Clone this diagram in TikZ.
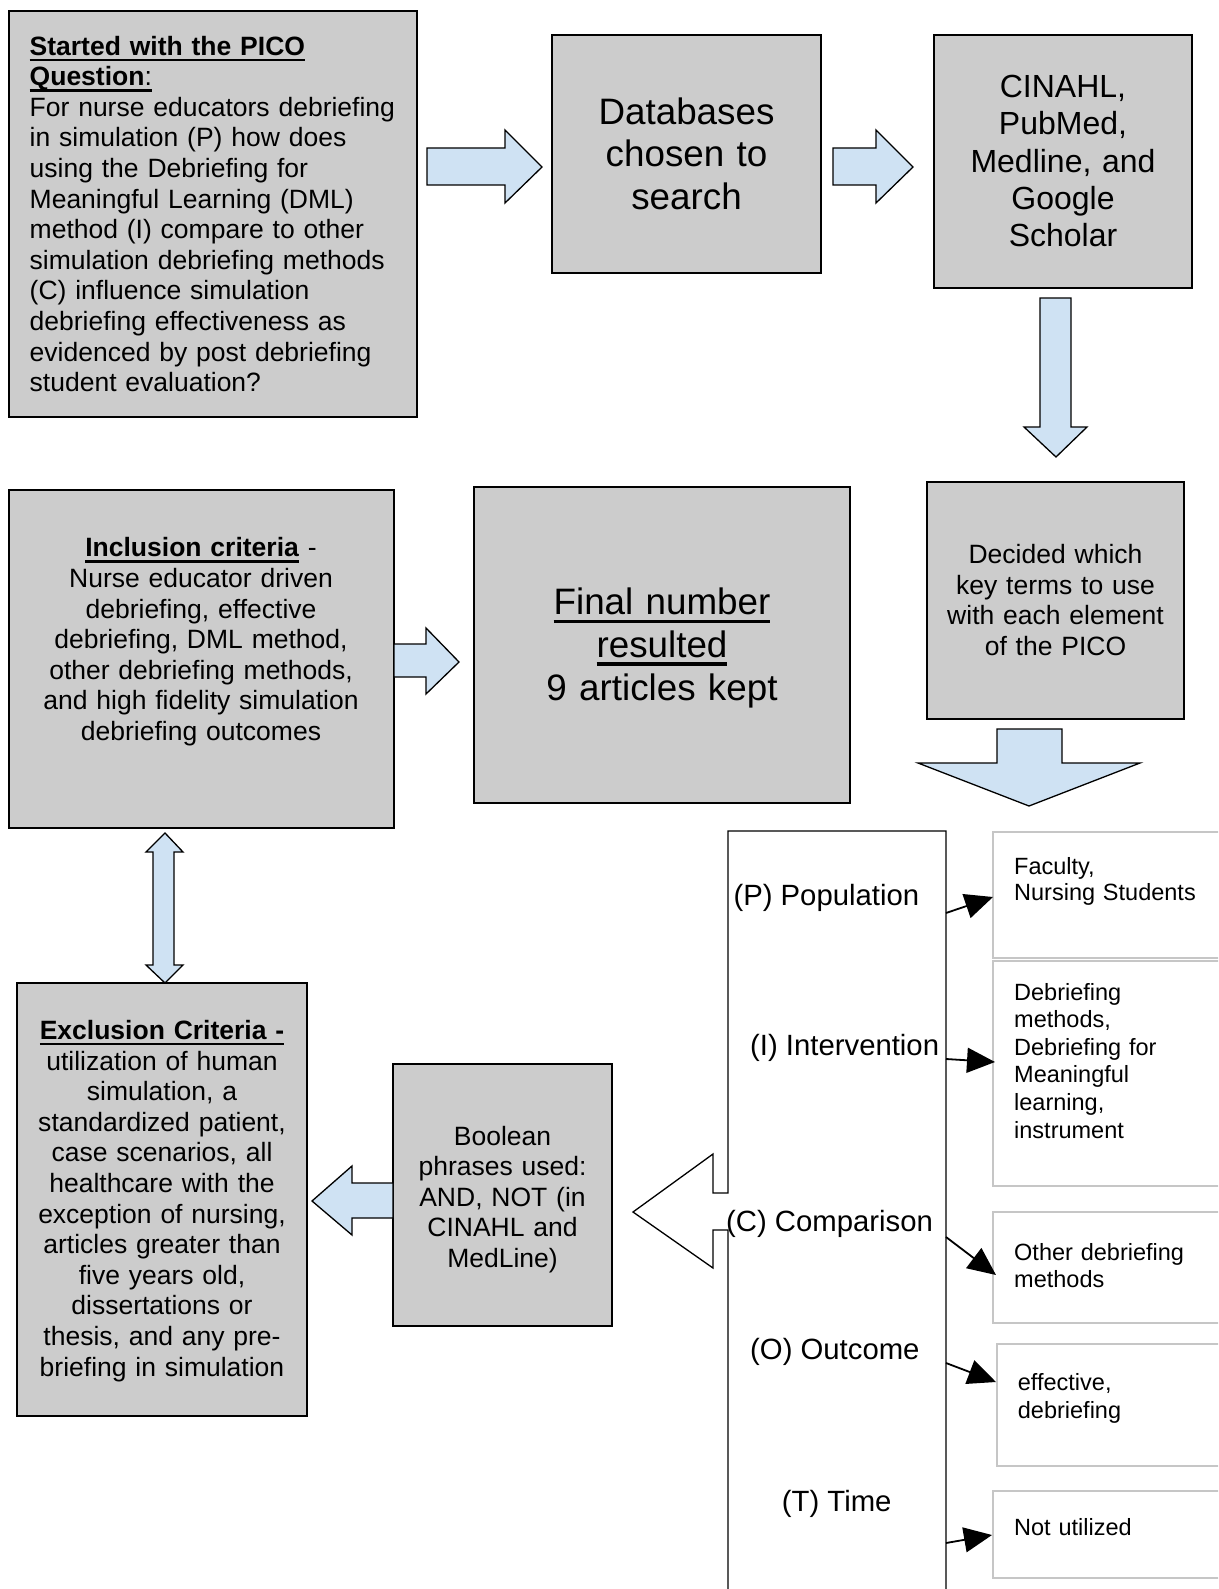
\documentclass[tikz,border=0pt]{standalone}
\usepackage{fontspec}
\setmainfont{Liberation Sans}
\usetikzlibrary{arrows.meta,fit}
\definecolor{boxgray}{HTML}{CCCCCC}
\definecolor{arrowblue}{HTML}{CFE2F3}
\definecolor{lightedge}{HTML}{C6C6C6}
\newcommand\myul[1]{\leavevmode\setbox0\hbox{#1}\rlap{\rule[-0.22em]{\wd0}{0.09em}}\box0\relax}
\begin{document}
\begin{tikzpicture}[x=1pt,y=-1pt,
  gbox/.style={draw=black, line width=1.3pt, fill=boxgray, inner sep=0pt},
  wbox/.style={draw=lightedge, line width=1.8pt, fill=white, inner sep=0pt},
  barrow/.style={draw=black, line width=1.3pt, fill=arrowblue, line join=miter},
  conn/.style={draw=black, line width=1.8pt, -{Triangle[length=28pt,width=25pt]}},
  ctxt/.style={inner sep=0pt, anchor=north, align=center},
  ltxt/.style={inner sep=0pt, anchor=north west, align=left},
  lbl/.style={inner sep=0pt, anchor=base west, font=\fontsize{29.3}{33.7}\selectfont},
  fmid/.style={font=\fontsize{26.5}{30.6}\selectfont},
  fbig/.style={font=\fontsize{36.8}{42.6}\selectfont},
  fcin/.style={font=\fontsize{32}{37.2}\selectfont},
]
\useasboundingbox (0,0) rectangle (1218,1589);
\fill[white] (0,0) rectangle (1218,1589);
\clip (0,0) rectangle (1218,1589);

% top row boxes
\node[gbox, fit={(9,11)(417,417)}] (pico) {};
\node[gbox, fit={(552,35)(821,273)}] (db) {};
\node[gbox, fit={(934,35)(1192,288)}] (cin) {};
\node[gbox, fit={(927,482)(1184,719)}] (dec) {};
\node[gbox, fit={(9,490)(394,828)}] (inc) {};
\node[gbox, fit={(474,487)(850,803)}] (fin) {};
\node[gbox, fit={(17,983)(307,1416)}] (exc) {};
\node[gbox, fit={(393,1064)(612,1326)}] (bool) {};

% texts in grey boxes
\node[ltxt, fmid, text width=400pt] (picotext) at (29.5,35.7)
  {\myul{\textbf{Started with the PICO}}\\\myul{\textbf{Question}:}\\For nurse educators debriefing\\in simulation (P) how does\\using the Debriefing for\\Meaningful Learning (DML)\\method (I) compare to other\\simulation debriefing methods\\(C) influence simulation\\debriefing effectiveness as\\evidenced by post debriefing\\student evaluation?};
\node[ctxt, fbig, text width=260pt] (dbtext) at (686.5,97.4) {Databases\\chosen to\\search};
\node[ctxt, fcin, text width=250pt] (cintext) at (1063,75.2) {CINAHL,\\PubMed,\\Medline, and\\Google\\Scholar};
\node[ctxt, fmid, text width=250pt] (dectext) at (1055.5,544) {Decided which\\key terms to use\\with each element\\of the PICO};
\node[ctxt, fmid, text width=380pt] (inctext) at (201,537.4)
  {\myul{\textbf{Inclusion criteria}}~-\\Nurse educator driven\\debriefing, effective\\debriefing, DML method,\\other debriefing methods,\\and high fidelity simulation\\debriefing outcomes};
\node[ctxt, fbig, text width=370pt] (fintext) at (662,588.1) {\myul{Final number}\\\myul{resulted}\\9 articles kept};
\node[ctxt, fmid, text width=285pt] (exctext) at (162,1020)
  {\myul{\textbf{Exclusion Criteria -}}\\utilization of human\\simulation, a\\standardized patient,\\case scenarios, all\\healthcare with the\\exception of nursing,\\articles greater than\\five years old,\\dissertations or\\thesis, and any pre-\\briefing in simulation};
\node[ctxt, fmid, text width=215pt] (booltext) at (502.5,1125.7) {Boolean\\phrases used:\\AND, NOT (in\\CINAHL and\\MedLine)};

% blue block arrows
\draw[barrow] (427,148) -- (505,148) -- (505,130) -- (542,167) -- (505,203) -- (505,185) -- (427,185) -- cycle;
\draw[barrow] (833,148) -- (876,148) -- (876,130) -- (913,167) -- (876,203) -- (876,185) -- (833,185) -- cycle;
\draw[barrow] (1040,298) -- (1071,298) -- (1071,427) -- (1087,427) -- (1056,457) -- (1024,427) -- (1040,427) -- cycle;
\draw[barrow] (997,729) -- (1062,729) -- (1062,763) -- (1140,763) -- (1029,806) -- (918,763) -- (997,763) -- cycle;
\draw[barrow] (394,644) -- (426,644) -- (426,628) -- (459,662) -- (426,694) -- (426,677) -- (394,677) -- cycle;
\draw[barrow] (165,833) -- (183,852) -- (174,852) -- (174,965) -- (183,965) -- (165,983) -- (146,965) -- (153,965) -- (153,852) -- (146,852) -- cycle;
\draw[barrow] (312,1201) -- (352,1166) -- (352,1183) -- (393,1183) -- (393,1218) -- (352,1218) -- (352,1235) -- cycle;

% white outline arrow with the PICO elements
\draw[line width=1.3pt, fill=white, line join=miter] (633,1212) -- (713,1154) -- (713,1193) -- (728,1193) -- (728,831) -- (946,831) -- (946,1620) -- (728,1620) -- (728,1230) -- (713,1230) -- (713,1268) -- cycle;
\node[lbl] (lp) at (733.3,905) {(P) Population};
\node[lbl] (li) at (750,1055) {(I) Intervention};
\node[lbl] (lc) at (726,1231.7) {(C) Comparison};
\node[lbl] (lo) at (750,1359) {(O) Outcome};
\node[lbl] (lt) at (781.7,1511.7) {(T) Time};

% white boxes on the right
\node[wbox, fit={(993,832)(1240,958)}] (fac) {};
\node[wbox, fit={(993,961)(1240,1186)}] (deb) {};
\node[wbox, fit={(993,1212)(1240,1323)}] (oth) {};
\node[wbox, fit={(997,1344)(1240,1466)}] (eff) {};
\node[wbox, fit={(993,1491)(1240,1578)}] (notu) {};
\node[ltxt, font=\fontsize{23.5}{26}\selectfont, text width=220pt] (factext) at (1014,856.8) {Faculty,\\Nursing Students};
\node[ltxt, font=\fontsize{23.5}{27.6}\selectfont, text width=220pt] (debtext) at (1014,982.8) {Debriefing\\methods,\\Debriefing for\\Meaningful\\learning,\\instrument};
\node[ltxt, font=\fontsize{23.5}{27.3}\selectfont, text width=220pt] (othtext) at (1014,1242.8) {Other debriefing\\methods};
\node[ltxt, font=\fontsize{23.5}{28}\selectfont, text width=220pt] (efftext) at (1017.7,1372.8) {effective,\\debriefing};
\node[ltxt, font=\fontsize{23.5}{27}\selectfont, text width=220pt] (notutext) at (1014,1517.8) {Not utilized};

% connectors
\coordinate (pS) at (946,913);  \coordinate (pE) at (993,897);
\coordinate (iS) at (946,1059); \coordinate (iE) at (995,1062);
\coordinate (cS) at (946,1237); \coordinate (cE) at (996,1275);
\coordinate (oS) at (946,1363); \coordinate (oE) at (996,1382);
\coordinate (tS) at (946,1543); \coordinate (tE) at (992,1535);
\draw[conn] (pS) -- (pE);
\draw[conn] (iS) -- (iE);
\draw[conn] (cS) -- (cE);
\draw[conn] (oS) -- (oE);
\draw[conn] (tS) -- (tE);
\end{tikzpicture}
\end{document}
